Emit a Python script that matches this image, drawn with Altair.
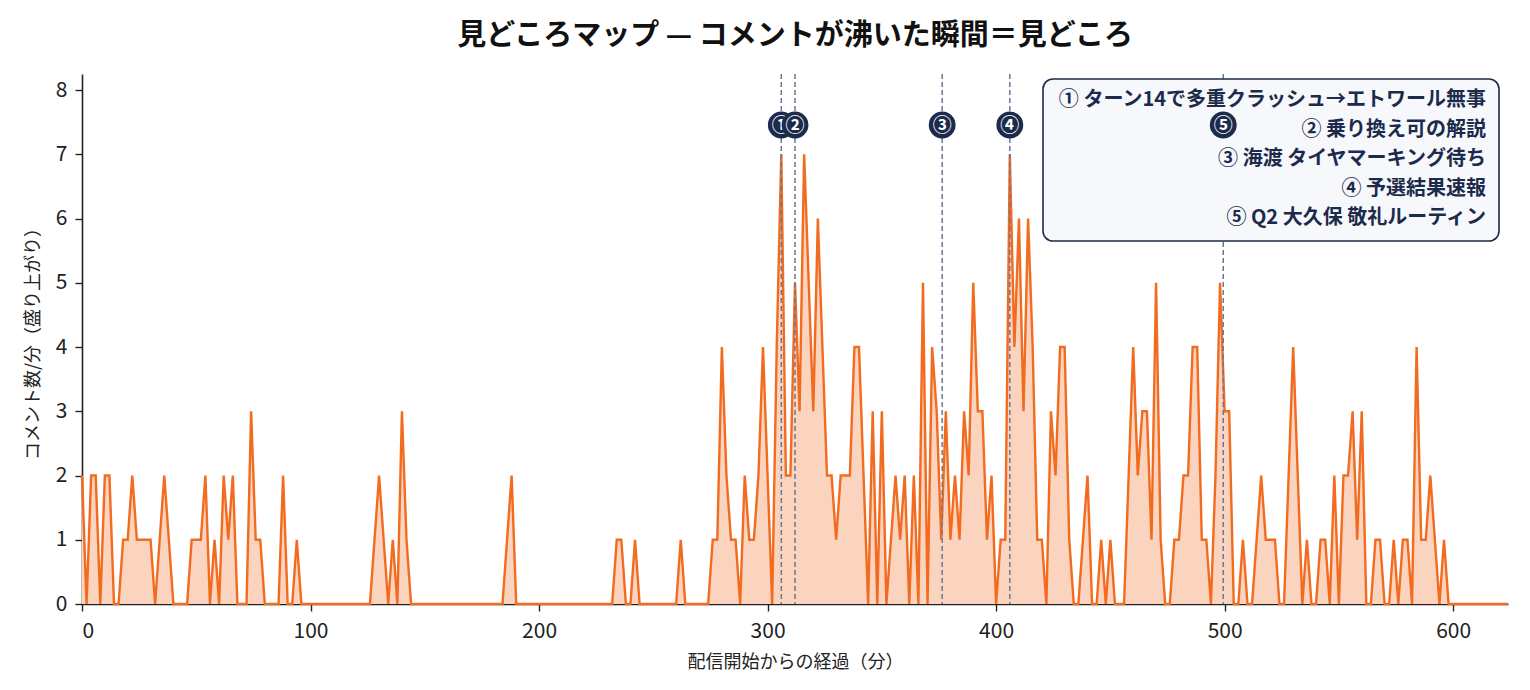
import altair as alt
import pandas as pd

FONT = "Noto Sans CJK JP"
ORANGE = "#f26b1f"
PEACH = "#fbd4bf"
NAVY = "#1c2a4b"
SLATE = "#6e7893"

# comments per minute, sampled every 2 minutes (0 .. 624)
minutes = list(range(0, 625, 2))
comments = [
    2, 0, 2, 2, 0, 2, 2, 0, 0, 1,   # 0-18
    1, 2, 1, 1, 1, 1, 0, 1, 2, 1,   # 20-38
    0, 0, 0, 0, 1, 1, 1, 2, 0, 1,   # 40-58
    0, 2, 1, 2, 0, 0, 0, 3, 1, 1,   # 60-78
    0, 0, 0, 0, 2, 0, 0, 1, 0, 0,   # 80-98
    0, 0, 0, 0, 0, 0, 0, 0, 0, 0,   # 100-118
    0, 0, 0, 0, 1, 2, 1, 0, 1, 0,   # 120-138
    3, 1, 0, 0, 0, 0, 0, 0, 0, 0,   # 140-158
    0, 0, 0, 0, 0, 0, 0, 0, 0, 0,   # 160-178
    0, 0, 0, 1, 2, 0, 0, 0, 0, 0,   # 180-198
    0, 0, 0, 0, 0, 0, 0, 0, 0, 0,   # 200-218
    0, 0, 0, 0, 0, 0, 0, 1, 1, 0,   # 220-238
    0, 1, 0, 0, 0, 0, 0, 0, 0, 0,   # 240-258
    0, 1, 0, 0, 0, 0, 0, 0, 1, 1,   # 260-278
    4, 2, 1, 1, 0, 2, 1, 1, 2, 4,   # 280-298
    2, 0, 4, 7, 2, 2, 5, 3, 7, 5,   # 300-318
    3, 6, 4, 2, 2, 1, 2, 2, 2, 4,   # 320-338
    4, 2, 0, 3, 0, 3, 0, 1, 2, 1,   # 340-358
    2, 0, 2, 0, 5, 0, 4, 3, 1, 3,   # 360-378
    1, 2, 1, 3, 2, 5, 3, 3, 1, 2,   # 380-398
    0, 1, 1, 7, 4, 6, 3, 6, 4, 1,   # 400-418
    1, 0, 3, 2, 4, 4, 1, 0, 0, 1,   # 420-438
    2, 0, 0, 1, 0, 1, 0, 0, 0, 2,   # 440-458
    4, 2, 3, 3, 1, 5, 1, 0, 0, 1,   # 460-478
    1, 2, 2, 4, 4, 1, 1, 0, 2, 5,   # 480-498
    3, 3, 0, 0, 1, 0, 0, 1, 2, 1,   # 500-518
    1, 1, 0, 0, 2, 4, 2, 0, 1, 0,   # 520-538
    0, 1, 1, 0, 2, 0, 2, 2, 3, 1,   # 540-558
    3, 0, 0, 1, 1, 0, 0, 1, 0, 1,   # 560-578
    1, 0, 4, 1, 1, 2, 1, 0, 1, 0,   # 580-598
    0, 0, 0, 0, 0, 0, 0, 0, 0, 0,   # 600-618
    0, 0, 0,                        # 620-624
]

moment_minutes = [306, 312, 376.4, 406, 499.4]
moment_marks = ["①", "②", "③", "④", "⑤"]
moment_notes = [
    "① ターン14で多重クラッシュ→エトワール無事",
    "② 乗り換え可の解説",
    "③ 海渡 タイヤマーキング待ち",
    "④ 予選結果速報",
    "⑤ Q2 大久保 敬礼ルーティン",
]

df = pd.DataFrame({"minute": minutes, "count": comments})
moments = pd.DataFrame({"minute": moment_minutes, "mark": moment_marks})

x_enc = alt.X(
    "minute:Q",
    title="配信開始からの経過（分）",
    scale=alt.Scale(domain=[0, 624], nice=False, zero=False),
    axis=alt.Axis(values=[0, 100, 200, 300, 400, 500, 600],
                  labelPadding=9, titlePadding=12),
)
y_enc = alt.Y(
    "count:Q",
    title="コメント数/分（盛り上がり）",
    scale=alt.Scale(domain=[0, 8.25], nice=False),
    axis=alt.Axis(values=list(range(9)), labelPadding=8, titlePadding=13),
)

base = alt.Chart(df).encode(x=x_enc, y=y_enc)
area = base.mark_area(color=PEACH, opacity=1)
line = base.mark_line(color=ORANGE, strokeWidth=2.4)

rules = alt.Chart(moments).mark_rule(
    color=SLATE, strokeDash=[5, 3], strokeWidth=1.5
).encode(x=x_enc)

box = alt.Chart(pd.DataFrame({"k": [0]})).mark_rect(
    fill="#f6f8fc", stroke=NAVY, strokeWidth=1.6, cornerRadius=10
).encode(
    x=alt.value(961), x2=alt.value(1417), y=alt.value(5), y2=alt.value(167)
)

layers = [area, line, rules, box]

for i, note in enumerate(moment_notes):
    layers.append(
        alt.Chart(pd.DataFrame({"note": [note]}))
        .mark_text(align="right", baseline="middle", font=FONT,
                   fontSize=20, fontWeight="bold", color=NAVY)
        .encode(x=alt.value(1404), y=alt.value(26 + i * 29.5), text="note:N")
    )

for i in range(len(moment_minutes)):
    one = moments.iloc[[i]]
    layers.append(
        alt.Chart(one)
        .mark_point(shape="circle", filled=True, size=720, color=NAVY, opacity=1)
        .encode(x=x_enc, y=alt.value(51))
    )
    layers.append(
        alt.Chart(one)
        .mark_text(align="center", baseline="middle", font=FONT,
                   fontSize=19, fontWeight="bold", color="white")
        .encode(x=x_enc, y=alt.value(52), text="mark:N")
    )

chart = (
    alt.layer(*layers)
    .properties(
        width=1426,
        height=530,
        background="white",
        padding={"left": 74, "top": 66, "right": 14, "bottom": 78},
        autosize=alt.AutoSizeParams(type="none"),
        title=alt.TitleParams(
            "見どころマップ\u00a0\u2014\u00a0コメントが沸いた瞬間＝見どころ",
            font=FONT, fontSize=29, fontWeight="bold", color="#111111",
            anchor="middle", frame="group", offset=22,
        ),
    )
    .configure_axis(
        grid=False,
        domainColor="#222222",
        domainWidth=1.6,
        tickColor="#222222",
        tickWidth=1.4,
        tickSize=7,
        labelFont=FONT,
        labelFontSize=21,
        labelColor="#222222",
        titleFont=FONT,
        titleFontSize=18,
        titleFontWeight="normal",
        titleColor="#222222",
    )
    .configure_view(stroke="transparent")
)

chart.save("out.html", embed_options={"renderer": "svg", "actions": False})
